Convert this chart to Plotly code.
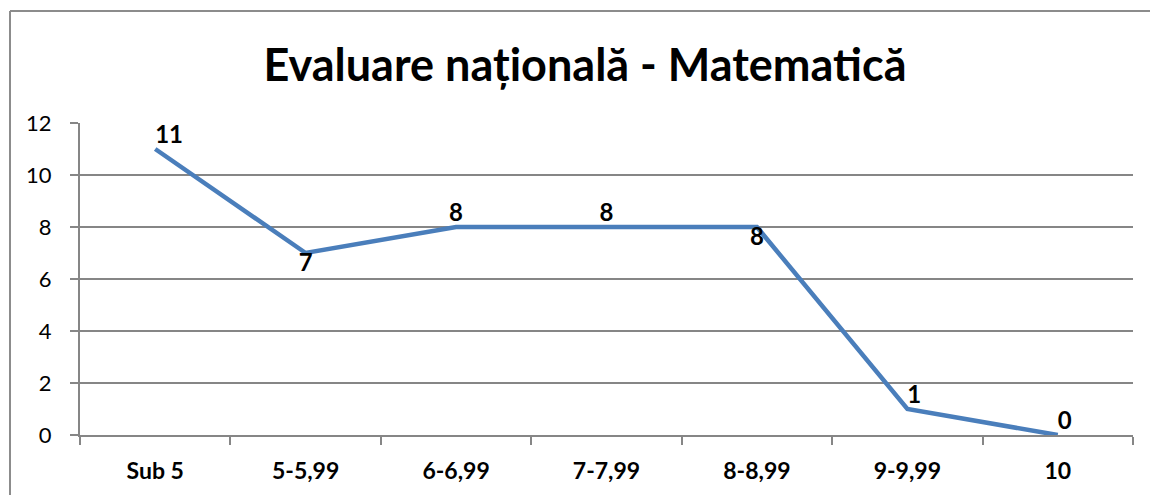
import plotly.graph_objects as go

# Evaluare nationala - Matematica: numar elevi pe intervale de note
intervale = ["Sub 5", "5-5,99", "6-6,99", "7-7,99", "8-8,99", "9-9,99", "10"]
elevi = [11, 7, 8, 8, 8, 1, 0]
pozitii_etichete = ["top right", "bottom center", "top center", "top center",
                    "bottom center", "top right", "top right"]

W, H = 1150, 495
ml, mr, mt, mb = 80, 17, 123, 60
pw, ph = W - ml - mr, H - mt - mb

fig = go.Figure()
fig.add_trace(go.Scatter(
    x=intervale,
    y=elevi,
    mode="lines+text",
    line=dict(color="#4a7ebb", width=4.5),
    text=[str(v) for v in elevi],
    textposition=pozitii_etichete,
    textfont=dict(family="Lato", size=24, color="black", weight="bold"),
    cliponaxis=False,
    showlegend=False,
    hoverinfo="skip",
))

# chenarul graficului (doar marginea de sus si cea din stanga se vad)
x_chenar = (10 - ml) / pw
y_chenar = 1 + (mt - 11) / ph
fig.add_shape(type="line", xref="paper", yref="paper",
              x0=x_chenar, x1=(W - ml) / pw, y0=y_chenar, y1=y_chenar,
              line=dict(color="#8c8c8c", width=2), layer="below")
fig.add_shape(type="line", xref="paper", yref="paper",
              x0=x_chenar, x1=x_chenar, y0=-mb / ph, y1=y_chenar,
              line=dict(color="#8c8c8c", width=2), layer="below")

fig.update_layout(
    width=W, height=H,
    margin=dict(l=ml, r=mr, t=mt, b=mb),
    paper_bgcolor="white", plot_bgcolor="white",
    title=dict(
        text="Evaluare națională - Matematică",
        font=dict(family="Lato", size=45, color="black", weight="bold"),
        x=585 / W, xanchor="center", xref="container",
        y=1 - 65 / H, yanchor="middle", yref="container",
    ),
)
fig.update_xaxes(
    type="category",
    range=[-0.5, len(intervale) - 0.5],
    showgrid=False,
    showline=True, linecolor="#868686", linewidth=2,
    ticks="outside", ticklen=8, tickcolor="#868686", tickwidth=2,
    tickson="boundaries",
    tickfont=dict(family="Lato", size=23, color="black", weight="bold"),
    ticklabelstandoff=14,
)
fig.update_yaxes(
    range=[0, 12], dtick=2,
    showgrid=True, gridcolor="#868686", gridwidth=2,
    showline=True, linecolor="#868686", linewidth=2,
    ticks="outside", ticklen=8, tickcolor="#868686", tickwidth=2,
    tickfont=dict(family="Lato", size=22, color="black"),
    ticklabelstandoff=14,
    zeroline=False,
)

# fara marginea implicita a paginii, ca figura sa umple fereastra
fig.write_html(
    "out.html",
    config={"displayModeBar": False},
    post_script="document.body.style.margin='0';"
                "document.documentElement.style.overflow='hidden';",
)
